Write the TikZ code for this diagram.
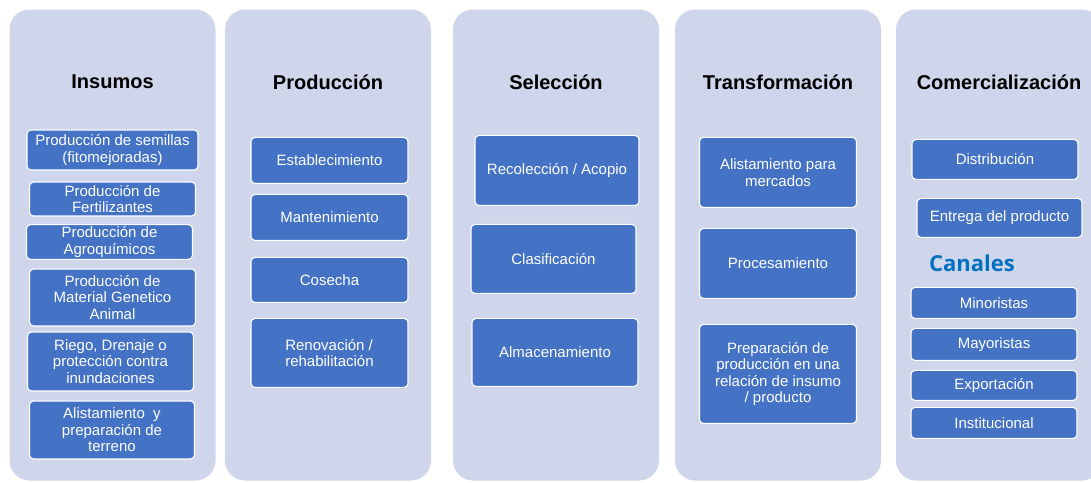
\documentclass[tikz,border=0pt]{standalone}
\usepackage{fontspec}
\setmainfont{Liberation Sans}
\newfontfamily\canalesfont{Open Sans}
\usetikzlibrary{positioning}
\definecolor{fondo}{HTML}{CFD5EA}
\definecolor{azulcaja}{HTML}{4472C4}
\definecolor{azulcanal}{HTML}{0070C0}

\begin{document}
\begin{tikzpicture}[x=1pt,y=-1pt,
    panel/.style={fill=fondo, rounded corners=20pt, minimum width=206pt, minimum height=471pt, inner sep=0pt},
    titulo/.style={font=\fontsize{20}{24}\selectfont\bfseries, inner sep=0pt},
    caja/.style={draw=white, line width=1.1pt, fill=azulcaja, rounded corners=4pt, text=white,
      align=center, inner sep=2pt, font=\fontsize{15}{16.5}\selectfont}]
  \useasboundingbox (0,0) rectangle (1091,482);

  % columnas de fondo
  \node[panel] (PInsumos) at (112.5,245) {};
  \node[panel] (PProduccion) at (328,245) {};
  \node[panel] (PSeleccion) at (556,245) {};
  \node[panel] (PTransf) at (778,245) {};
  \node[panel] (PComerc) at (999,245) {};

  % Insumos
  \node[titulo, on grid, below=65.5pt of PInsumos.north] (TInsumos) {Insumos};
  \node[caja, on grid, below=68pt of TInsumos, minimum width=171pt, minimum height=40pt] (Semillas) {Producción de semillas\\(fitomejoradas)};
  \node[caja, on grid, below=49pt of Semillas, minimum width=166pt, minimum height=34pt] (Fertil) {Producción de\\Fertilizantes};
  \node[caja, on grid, below left=43pt and 3pt of Fertil, minimum width=166pt, minimum height=34pt] (Agroq) {Producción de\\Agroquímicos};
  \node[caja, on grid, below right=55.5pt and 3pt of Agroq, minimum width=166pt, minimum height=57pt] (Genetico) {Producción de\\Material Genetico\\Animal};
  \node[caja, on grid, below left=64pt and 2pt of Genetico, minimum width=166pt, minimum height=59pt] (Riego) {Riego, Drenaje o\\protección contra\\inundaciones};
  \node[caja, on grid, below right=68.5pt and 1.5pt of Riego, minimum width=165pt, minimum height=58pt] (Terreno) {Alistamiento\ \ y\\preparación de\\terreno};

  % Produccion
  \node[titulo, on grid, below=65.5pt of PProduccion.north] (TProduccion) {Producción};
  \node[caja, on grid, below right=78pt and 1.5pt of TProduccion, minimum width=157pt, minimum height=46pt] (Establec) {Establecimiento};
  \node[caja, on grid, below=57pt of Establec, minimum width=157pt, minimum height=46pt] (Manten) {Mantenimiento};
  \node[caja, on grid, below=62.5pt of Manten, minimum width=157pt, minimum height=45pt] (Cosecha) {Cosecha};
  \node[caja, on grid, below=73pt of Cosecha, minimum width=157pt, minimum height=69pt, align=left] (Renov) {Renovación /\\rehabilitación};

  % Seleccion
  \node[titulo, on grid, below=65.5pt of PSeleccion.north] (TSeleccion) {Selección};
  \node[caja, on grid, below right=88pt and 1pt of TSeleccion, minimum width=164pt, minimum height=70pt] (Acopio) {Recolección / Acopio};
  \node[caja, on grid, below left=88.5pt and 3.5pt of Acopio, minimum width=165pt, minimum height=69pt] (Clasif) {Clasificación};
  \node[caja, on grid, below right=93.5pt and 1.5pt of Clasif, minimum width=166pt, minimum height=68pt] (Almacen) {Almacenamiento};

  % Transformacion
  \node[titulo, on grid, below=65.5pt of PTransf.north] (TTransf) {Transformación};
  \node[caja, on grid, below=90pt of TTransf, minimum width=157pt, minimum height=70pt] (Alistam) {Alistamiento para\\mercados};
  \node[caja, on grid, below=91pt of Alistam, minimum width=157pt, minimum height=70pt] (Proces) {Procesamiento};
  \node[caja, on grid, below=110.5pt of Proces, minimum width=157pt, minimum height=99pt] (Prepar) {Preparación de\\producción en una\\relación de insumo\\/ producto};

  % Comercializacion
  \node[titulo, on grid, below=65.5pt of PComerc.north] (TComerc) {Comercialización};
  \node[caja, on grid, below left=77pt and 4pt of TComerc, minimum width=166pt, minimum height=40pt] (Distrib) {Distribución};
  \node[caja, on grid, below right=58.5pt and 4.5pt of Distrib, minimum width=165pt, minimum height=39pt] (Entrega) {Entrega del producto};
  \node[on grid, below left=45.5pt and 27.5pt of Entrega, inner sep=0pt, text=azulcanal, font=\canalesfont\fontsize{22}{25}\selectfont\bfseries] (Canales) {Canales};
  \node[caja, on grid, below left=85pt and 5.5pt of Entrega, minimum width=166pt, minimum height=31pt] (Minor) {Minoristas};
  \node[caja, on grid, below=41.5pt of Minor, minimum width=166pt, minimum height=32pt] (Mayor) {Mayoristas};
  \node[caja, on grid, below=41pt of Mayor, minimum width=166pt, minimum height=30pt] (Export) {Exportación};
  \node[caja, on grid, below=37.5pt of Export, minimum width=166pt, minimum height=31pt] (Instit) {Institucional};
\end{tikzpicture}
\end{document}
